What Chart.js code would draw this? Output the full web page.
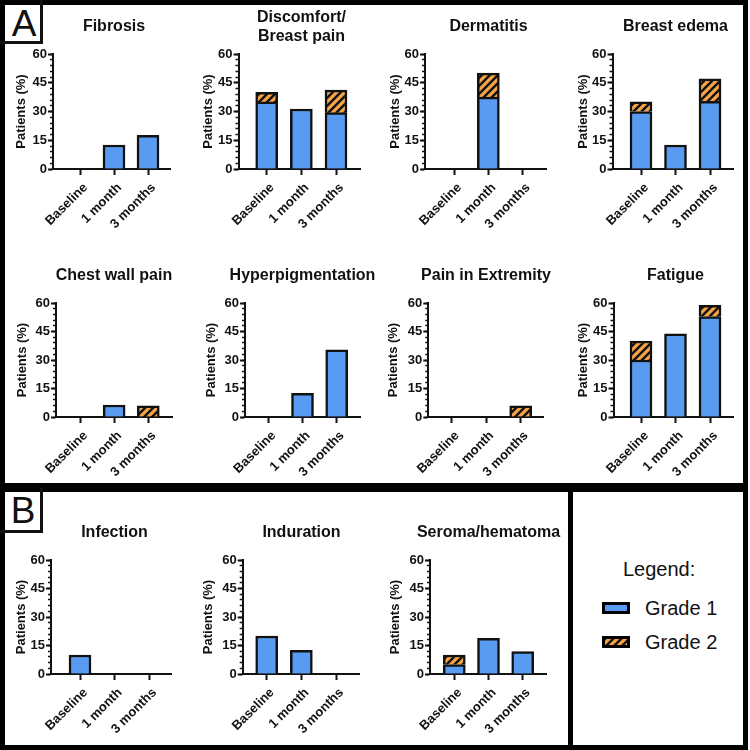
<!DOCTYPE html>
<html>
<head>
<meta charset="utf-8">
<script src="https://cdn.jsdelivr.net/npm/chart.js@4.4.0/dist/chart.umd.min.js"></script>
<style>
html, body { margin: 0; padding: 0; background: #fff; }
#root { position: relative; width: 750px; height: 750px; overflow: hidden; font-family: "Liberation Sans", Arial, Helvetica, sans-serif; color: #111; }
.box { position: absolute; box-sizing: border-box; border: 5px solid #000; }
.tag { position: absolute; box-sizing: border-box; border-right: 3px solid #111; border-bottom: 3px solid #111; }
.letter { position: absolute; width: 40px; text-align: center; font-size: 37px; line-height: 37px; }
.ltxt { position: absolute; font-size: 20px; line-height: 20px; white-space: nowrap; }
.sw { position: absolute; box-sizing: border-box; width: 28px; height: 12px; border: 3px solid #000; }
canvas { position: absolute; }
</style>
</head>
<body>
<div id="root">
  <div class="box" style="left:0;top:0;width:748px;height:488px;"></div>
  <div class="box" style="left:0;top:487px;width:573px;height:263px;"></div>
  <div class="box" style="left:568px;top:487px;width:180px;height:263px;"></div>
  <div class="tag" style="left:0;top:0;width:43px;height:44px;"></div>
  <div class="letter" style="left:4px;top:5px;">A</div>
  <div class="tag" style="left:0;top:488px;width:43px;height:45px;"></div>
  <div class="letter" style="left:3px;top:492px;">B</div>
  <div class="ltxt" id="legTitle" style="left:623px;top:559px;"></div>
  <div class="sw" id="sw1" style="left:602px;top:602px;"></div>
  <div class="ltxt" id="leg1" style="left:645px;top:598px;"></div>
  <div class="sw" id="sw2" style="left:602px;top:636px;"></div>
  <div class="ltxt" id="leg2" style="left:645px;top:632px;"></div>
</div>
<script>
// ---------------- data ----------------
const timepoints = ["Baseline", "1 month", "3 months"];
const seriesNames = ["Grade 1", "Grade 2"];
const yAxisTitle = "Patients (%)";
const yMax = 60;
const yMajorStep = 15;
const yMinorStep = 3;
const legendTitle = "Legend:";

const fibrosisG1      = [0, 12.5, 17.6];
const fibrosisG2      = [0, 0, 0];
const discomfortG1    = [35, 31.3, 29.4];
const discomfortG2    = [5, 0, 11.8];
const dermatitisG1    = [0, 37.5, 0];
const dermatitisG2    = [0, 12.5, 0];
const breastEdemaG1   = [30, 12.5, 35.3];
const breastEdemaG2   = [5, 0, 11.8];
const chestWallG1     = [0, 6.3, 0];
const chestWallG2     = [0, 0, 5.9];
const hyperpigG1      = [0, 12.5, 35.3];
const hyperpigG2      = [0, 0, 0];
const painExtG1       = [0, 0, 0];
const painExtG2       = [0, 0, 5.9];
const fatigueG1       = [30, 43.8, 52.9];
const fatigueG2       = [10, 0, 5.9];
const infectionG1     = [10, 0, 0];
const infectionG2     = [0, 0, 0];
const indurationG1    = [20, 12.5, 0];
const indurationG2    = [0, 0, 0];
const seromaG1        = [5, 18.8, 11.8];
const seromaG2        = [5, 0, 0];

const panels = [
  { title: "Fibrosis", g1: fibrosisG1, g2: fibrosisG2 },
  { title: ["Discomfort/", "Breast pain"], g1: discomfortG1, g2: discomfortG2 },
  { title: "Dermatitis", g1: dermatitisG1, g2: dermatitisG2 },
  { title: "Breast edema", g1: breastEdemaG1, g2: breastEdemaG2 },
  { title: "Chest wall pain", g1: chestWallG1, g2: chestWallG2 },
  { title: "Hyperpigmentation", g1: hyperpigG1, g2: hyperpigG2 },
  { title: "Pain in Extremity", g1: painExtG1, g2: painExtG2 },
  { title: "Fatigue", g1: fatigueG1, g2: fatigueG2 },
  { title: "Infection", g1: infectionG1, g2: infectionG2 },
  { title: "Induration", g1: indurationG1, g2: indurationG2 },
  { title: "Seroma/hematoma", g1: seromaG1, g2: seromaG2 }
];

// ---------------- layout (pixel geometry only) ----------------
const rows = [ { ct: 54, cb: 169 }, { ct: 303, cb: 417 }, { ct: 560, cb: 674 } ];
// ax: y-axis line x, t0/t2: first/last category tick x, re: x-axis right end, tx: y-title centre x
const geom = [
  { row: 0, ax: 53,    t0: 80,    t2: 148,   re: 170,   tx: 22 },
  { row: 0, ax: 238.5, t0: 266.7, t2: 336,   re: 360,   tx: 208.5 },
  { row: 0, ax: 425,   t0: 454,   t2: 522.7, re: 546.7, tx: 395.5 },
  { row: 0, ax: 612.5, t0: 641,   t2: 710,   re: 733,   tx: 583.3 },
  { row: 1, ax: 56,    t0: 80,    t2: 148.3, re: 172,   tx: 22.3 },
  { row: 1, ax: 245,   t0: 268.3, t2: 336.7, re: 360,   tx: 211.7 },
  { row: 1, ax: 428.3, t0: 451.7, t2: 520.7, re: 543.3, tx: 393.3 },
  { row: 1, ax: 613.5, t0: 641,   t2: 710,   re: 733.3, tx: 583.3 },
  { row: 2, ax: 51,    t0: 80,    t2: 149,   re: 171.7, tx: 22 },
  { row: 2, ax: 242.7, t0: 266.7, t2: 336,   re: 359,   tx: 208.3 },
  { row: 2, ax: 430,   t0: 454.3, t2: 522.7, re: 546.7, tx: 395.5 }
];

const BLUE = '#5A9BF2';
const ORANGE = '#F6A446';
const INK = '#111111';
const FONT = '"Liberation Sans", Arial, Helvetica, sans-serif';
Chart.defaults.font.family = FONT;
Chart.defaults.color = INK;

function makeHatch() {
  const s = 8;
  const c = document.createElement('canvas');
  c.width = s; c.height = s;
  const g = c.getContext('2d');
  g.fillStyle = ORANGE; g.fillRect(0, 0, s, s);
  g.strokeStyle = INK; g.lineWidth = 2.4;
  g.beginPath();
  g.moveTo(-1, s + 1); g.lineTo(s + 1, -1);
  g.moveTo(-s / 2 - 1, s / 2 + 1); g.lineTo(s / 2 + 1, -s / 2 - 1);
  g.moveTo(s / 2 - 1, s * 1.5 + 1); g.lineTo(s * 1.5 + 1, s / 2 - 1);
  g.stroke();
  return { pattern: g.createPattern(c, 'repeat'), url: c.toDataURL() };
}
const hatch = makeHatch();

// legend (HTML)
document.getElementById('legTitle').textContent = legendTitle;
document.getElementById('leg1').textContent = seriesNames[0];
document.getElementById('leg2').textContent = seriesNames[1];
document.getElementById('sw1').style.background = BLUE;
document.getElementById('sw2').style.background = 'url(' + hatch.url + ')';

const TITLE_SIZE = 16, TITLE_LH = 1.2;
const YT_SIZE = 13, YT_LH = 1.2;
const YTICK_SIZE = 13;
const XTICK_SIZE = 13;
const XAXIS_H = 62;
const root = document.getElementById('root');

panels.forEach((p, idx) => {
  const gm = geom[idx];
  const r = rows[gm.row];
  const nLines = Array.isArray(p.title) ? p.title.length : 1;
  const lineH = TITLE_SIZE * TITLE_LH;
  const wantTitleH = nLines === 1 ? 27 + lineH / 2 : 17 + lineH / 2 + lineH;
  const top = Math.round(r.ct - wantTitleH);
  const titleH = r.ct - top;
  const padBottom = titleH - nLines * lineH;
  const sp = (gm.t2 - gm.t0) / 2;
  const left = Math.round(gm.tx - YT_SIZE * YT_LH / 2);
  const mid = gm.t0 + sp;
  const width = Math.round(2 * (mid - left));
  const height = Math.round(titleH + (r.cb - r.ct) + XAXIS_H);
  const yW = gm.ax - left;
  const padR = width - (gm.re - left);
  const xMin = -(gm.t0 - gm.ax) / sp;
  const xMax = 2 + (gm.re - gm.t2) / sp;

  const cv = document.createElement('canvas');
  cv.width = width; cv.height = height;
  cv.style.left = left + 'px'; cv.style.top = top + 'px';
  root.appendChild(cv);

  new Chart(cv, {
    type: 'bar',
    data: {
      datasets: [
        { label: seriesNames[0], data: p.g1.map((v, i) => ({ x: i, y: v })),
          backgroundColor: BLUE, borderColor: INK, borderWidth: 2.5, barThickness: 22 },
        { label: seriesNames[1], data: p.g2.map((v, i) => ({ x: i, y: v })),
          backgroundColor: hatch.pattern, borderColor: INK, borderWidth: 2.5, barThickness: 22 }
      ]
    },
    options: {
      responsive: false, animation: false, devicePixelRatio: 1,
      layout: { padding: 0 },
      plugins: {
        legend: { display: false }, tooltip: { enabled: false },
        title: { display: true, text: p.title, color: INK,
          font: { size: TITLE_SIZE, weight: 'bold', lineHeight: TITLE_LH },
          padding: { top: 0, bottom: padBottom } }
      },
      scales: {
        x: {
          type: 'linear', stacked: true, offset: false, min: xMin, max: xMax,
          afterBuildTicks: s => { s.ticks = timepoints.map((_, i) => ({ value: i })); },
          afterFit: s => { s.height = XAXIS_H; },
          ticks: { autoSkip: false, minRotation: 45, maxRotation: 45, padding: 5, labelOffset: 5.5,
            color: INK, font: { size: XTICK_SIZE, weight: 'bold' },
            callback: v => timepoints[v] },
          grid: { drawOnChartArea: false, drawTicks: true, tickLength: 6, tickWidth: 2, tickColor: INK, offset: false },
          border: { display: true, color: INK, width: 2 }
        },
        y: {
          type: 'linear', position: 'left', stacked: true, min: 0, max: yMax, weight: 1,
          afterFit: s => { s.width = yW; },
          ticks: { stepSize: yMajorStep, padding: 1, color: INK, font: { size: YTICK_SIZE, weight: 'bold' } },
          grid: { drawOnChartArea: false, drawTicks: true, tickLength: 5, tickWidth: 2, tickColor: INK },
          border: { display: true, color: INK, width: 2 },
          title: { display: true, text: yAxisTitle, color: INK, padding: 0,
            font: { size: YT_SIZE, weight: 'bold', lineHeight: YT_LH } }
        },
        yMinor: {
          type: 'linear', axis: 'y', position: 'left', min: 0, max: yMax, weight: 0,
          afterFit: s => { s.width = 0; },
          ticks: { display: false, stepSize: yMinorStep },
          grid: { drawOnChartArea: false, drawTicks: true, tickLength: 3, tickWidth: 1.5, tickColor: INK },
          border: { display: false }
        },
        yPad: {
          type: 'linear', axis: 'y', position: 'right', min: 0, max: yMax,
          afterFit: s => { s.width = padR; },
          ticks: { display: false },
          grid: { display: false, drawTicks: false },
          border: { display: false }
        }
      }
    }
  });
});
</script>
</body>
</html>
